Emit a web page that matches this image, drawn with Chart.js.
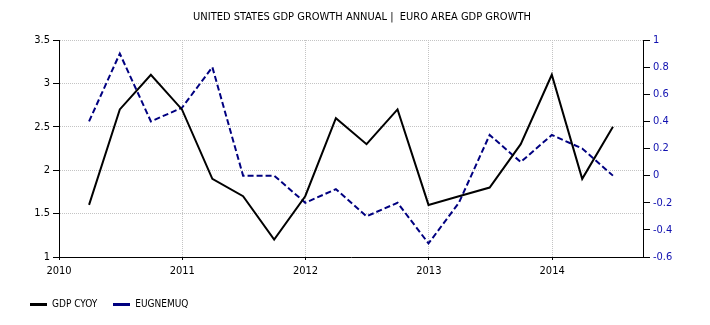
<!DOCTYPE html>
<html>
<head>
<meta charset="utf-8">
<title>US GDP growth vs Euro area GDP growth</title>
<script src="https://cdn.jsdelivr.net/npm/chart.js@4/dist/chart.umd.min.js"></script>
<style>
  html, body { margin: 0; padding: 0; background: #fff; }
  canvas { display: block; }
</style>
</head>
<body>
<canvas id="chart" width="710" height="325"></canvas>
<script>
// data (quarter end dates)
const quarterEnds = [
  '2010-03-31', '2010-06-30', '2010-09-30', '2010-12-31',
  '2011-03-31', '2011-06-30', '2011-09-30', '2011-12-31',
  '2012-03-31', '2012-06-30', '2012-09-30', '2012-12-31',
  '2013-03-31', '2013-06-30', '2013-09-30', '2013-12-31',
  '2014-03-31', '2014-06-30'
];
const gdpCyoy = [1.6, 2.7, 3.1, 2.7, 1.9, 1.7, 1.2, 1.7, 2.6, 2.3, 2.7, 1.6, 1.7, 1.8, 2.3, 3.1, 1.9, 2.5];
const eugnemuq = [0.4, 0.9, 0.4, 0.5, 0.8, 0, 0, -0.2, -0.1, -0.3, -0.2, -0.5, -0.2, 0.3, 0.1, 0.3, 0.2, 0];
const yearTicks = [2010, 2011, 2012, 2013, 2014];
const xStart = '2010-01-01';
const xEnd = '2014-09-27';

const FONT = 'DejaVu Sans Condensed';

// date string -> fractional year
function decYear(s) {
  const d = new Date(s + 'T00:00:00Z');
  const y = d.getUTCFullYear();
  const start = Date.UTC(y, 0, 1);
  const end = Date.UTC(y + 1, 0, 1);
  return y + (d.getTime() - start) / (end - start);
}
const fmt = v => String(+Number(v).toFixed(1));

// small canvas used as legend symbol (line, optionally dashed)
function legendLine(color, dash) {
  const c = document.createElement('canvas');
  c.width = 17; c.height = 3;
  const g = c.getContext('2d');
  g.strokeStyle = color;
  g.lineWidth = 3;
  g.setLineDash(dash);
  g.beginPath();
  g.moveTo(0, 1.5);
  g.lineTo(17, 1.5);
  g.stroke();
  return c;
}

new Chart(document.getElementById('chart'), {
  type: 'line',
  data: {
    datasets: [
      {
        label: 'GDP CYOY',
        data: quarterEnds.map((d, i) => ({ x: decYear(d), y: gdpCyoy[i] })),
        borderColor: '#000000',
        backgroundColor: '#000000',
        borderWidth: 2,
        pointRadius: 0,
        tension: 0,
        yAxisID: 'y'
      },
      {
        label: 'EUGNEMUQ',
        data: quarterEnds.map((d, i) => ({ x: decYear(d), y: eugnemuq[i] })),
        borderColor: '#000080',
        backgroundColor: '#000080',
        borderWidth: 2,
        borderDash: [6, 3],
        pointRadius: 0,
        tension: 0,
        yAxisID: 'y1'
      }
    ]
  },
  options: {
    responsive: false,
    animation: false,
    devicePixelRatio: 1,
    layout: { padding: { left: 14, right: 0, top: 0, bottom: 6 } },
    plugins: {
      title: {
        display: true,
        text: 'UNITED STATES GDP GROWTH ANNUAL |  EURO AREA GDP GROWTH',
        color: '#000',
        font: { family: FONT, size: 11, weight: 'normal' },
        padding: { top: 11, bottom: 15.8 }
      },
      legend: {
        position: 'bottom',
        align: 'start',
        labels: {
          usePointStyle: true,
          pointStyleWidth: 17,
          padding: 16,
          color: '#000',
          font: { family: FONT, size: 10 },
          generateLabels: chart => Chart.defaults.plugins.legend.labels.generateLabels(chart)
            .map(l => ({
              ...l,
              pointStyle: legendLine(l.strokeStyle, l.lineDash && l.lineDash.length ? [4, 3] : [])
            }))
        }
      },
      tooltip: { enabled: false }
    },
    scales: {
      x: {
        type: 'linear',
        min: decYear(xStart),
        max: decYear(xEnd),
        afterBuildTicks: s => { s.ticks = yearTicks.map(v => ({ value: v })); },
        afterFit: s => { s.height = 26; },
        grid: { color: '#c4c4c4', tickColor: '#000', tickLength: 3, lineWidth: 1 },
        border: { color: '#000', width: 1, dash: [1, 1] },
        ticks: {
          color: '#000',
          padding: 5,
          maxRotation: 0,
          font: { family: FONT, size: 11 },
          callback: v => String(v)
        }
      },
      y: {
        position: 'left',
        min: 1,
        max: 3.5,
        afterFit: s => { s.width = 45; },
        grid: { color: '#c4c4c4', tickColor: '#000', tickLength: 6, lineWidth: 1 },
        border: { color: '#000', width: 1, dash: [1, 1] },
        ticks: {
          stepSize: 0.5,
          color: '#000',
          padding: 3,
          font: { family: FONT, size: 11 },
          callback: fmt
        }
      },
      y1: {
        position: 'right',
        min: -0.6,
        max: 1,
        afterFit: s => { s.width = 67; },
        grid: { drawOnChartArea: false, tickColor: '#000', tickLength: 7 },
        border: { color: '#000', width: 1 },
        ticks: {
          stepSize: 0.2,
          color: '#1010b0',
          padding: 3,
          font: { family: FONT, size: 11 },
          callback: fmt
        }
      }
    }
  }
});
</script>
</body>
</html>
